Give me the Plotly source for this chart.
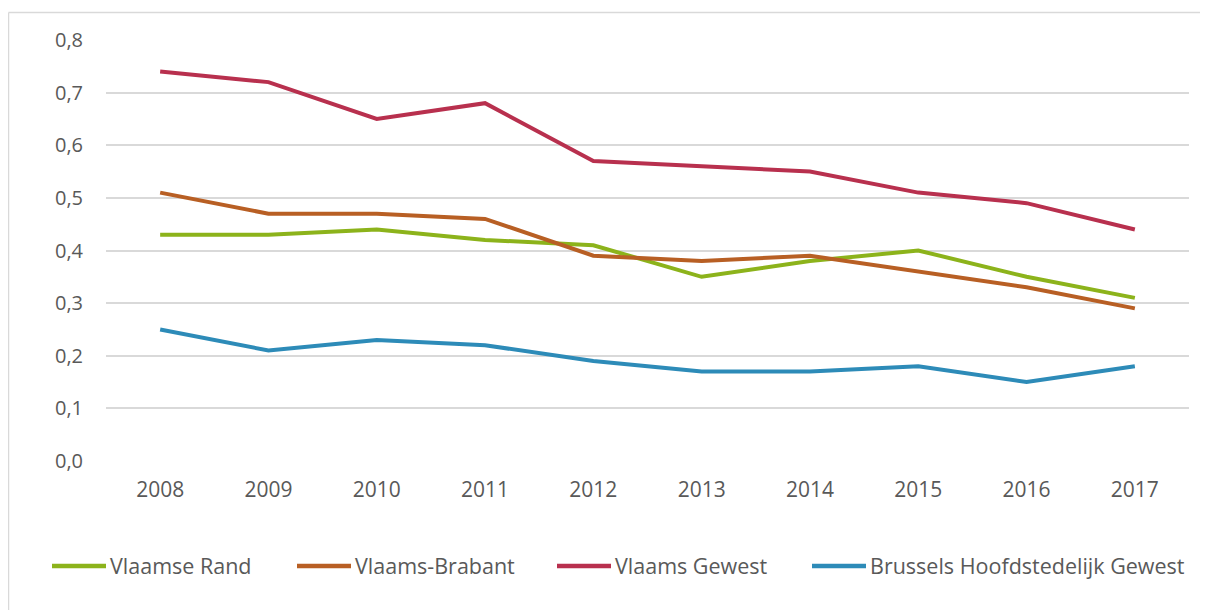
import plotly.graph_objects as go

years = ["2008", "2009", "2010", "2011", "2012", "2013", "2014", "2015", "2016", "2017"]
series_names = ["Vlaamse Rand", "Vlaams-Brabant", "Vlaams Gewest", "Brussels Hoofdstedelijk Gewest"]
vlaamse_rand = [0.43, 0.43, 0.44, 0.42, 0.41, 0.35, 0.38, 0.40, 0.35, 0.31]
vlaams_brabant = [0.51, 0.47, 0.47, 0.46, 0.39, 0.38, 0.39, 0.36, 0.33, 0.29]
vlaams_gewest = [0.74, 0.72, 0.65, 0.68, 0.57, 0.56, 0.55, 0.51, 0.49, 0.44]
brussels = [0.25, 0.21, 0.23, 0.22, 0.19, 0.17, 0.17, 0.18, 0.15, 0.18]
y_ticks = [0.0, 0.1, 0.2, 0.3, 0.4, 0.5, 0.6, 0.7, 0.8]

colors = ["#8cb31b", "#b85f24", "#b8304e", "#2d8bb8"]
values = [vlaamse_rand, vlaams_brabant, vlaams_gewest, brussels]

# the page body adds an 8px offset; figure sized so it does not overflow the window
OFF = 8
W, H = 1208 - OFF, 610 - OFF
ML, MT = 106 - OFF, 40 - OFF
PR, PB = 1189 - OFF, 461 - OFF
MR, MB = W - PR, H - PB
PW, PH = PR - ML, PB - MT

def px_x(px):
    return (px - OFF - ML) / PW

def px_y(py):
    return (PB - (py - OFF)) / PH

fig = go.Figure()
for name, vals, col in zip(series_names, values, colors):
    fig.add_trace(go.Scatter(x=years, y=vals, mode="lines", name=name,
                             line=dict(color=col, width=4), showlegend=False))

font_family = "Open Sans, DejaVu Sans, sans-serif"
text_color = "#595959"

# manual legend (screen pixel positions)
legend_starts = [52, 297, 557, 812]
sym_len = 54
legend_y = 566
shapes = []
annotations = []
for name, col, x0 in zip(series_names, colors, legend_starts):
    shapes.append(dict(type="line", xref="paper", yref="paper",
                       x0=px_x(x0), x1=px_x(x0 + sym_len),
                       y0=px_y(legend_y), y1=px_y(legend_y),
                       line=dict(color=col, width=4.5)))
    annotations.append(dict(xref="paper", yref="paper", x=px_x(x0 + sym_len + 2),
                            y=px_y(legend_y - 0.5), xanchor="left", yanchor="middle",
                            text=name, showarrow=False,
                            font=dict(family=font_family, size=21.5, color=text_color)))

# outer border (top and left)
shapes.append(dict(type="line", xref="paper", yref="paper",
                   x0=px_x(8.5), x1=px_x(1220), y0=px_y(12.5), y1=px_y(12.5),
                   line=dict(color="#d9d9d9", width=1.5)))
shapes.append(dict(type="line", xref="paper", yref="paper",
                   x0=px_x(8.5), x1=px_x(8.5), y0=px_y(12.5), y1=px_y(620),
                   line=dict(color="#d9d9d9", width=1.5)))

fig.update_layout(
    width=W, height=H,
    margin=dict(l=ML, r=MR, t=MT, b=MB),
    paper_bgcolor="white", plot_bgcolor="white",
    separators=", ",
    font=dict(family=font_family, color=text_color),
    shapes=shapes,
    annotations=annotations,
    xaxis=dict(type="category", range=[-0.5, 9.5], showgrid=False, zeroline=False,
               showline=False, ticks="", tickfont=dict(size=21, color=text_color),
               ticklabelstandoff=14),
    yaxis=dict(range=[0, 0.8], tickvals=y_ticks, tickformat=".1f",
               showgrid=True, gridcolor="#d9d9d9", gridwidth=1.5,
               zeroline=False, showline=False, ticks="",
               tickfont=dict(size=20, color=text_color), ticklabelstandoff=22),
)

fig.write_html("out.html", config={"displayModeBar": False})
